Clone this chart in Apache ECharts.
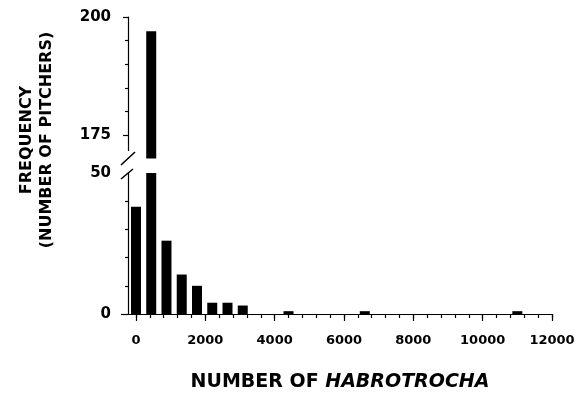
<!DOCTYPE html>
<html>
<head>
<meta charset="utf-8">
<script src="https://cdn.jsdelivr.net/npm/echarts@6/dist/echarts.min.js"></script>
<style>html,body{margin:0;padding:0;background:#fff}#c{width:582px;height:397px}</style>
</head>
<body>
<div id="c"></div>
<script>
// Data
var binCenters = [0, 440, 880, 1320, 1760, 2200, 2640, 3080, 4400, 6600, 11000];
var frequencies = [38, 197, 26, 14, 10, 4, 4, 3, 1, 1, 1];
var xMinorTicks = [0,400,800,1200,1600,2000,2400,2800,3200,3600,4000,4400,4800,5200,5600,6000,6400,6800,7200,7600,8000,8400,8800,9200,9600,10000,10400,10800,11200,11600,12000];
var xMajorTicks = [0,2000,4000,6000,8000,10000,12000];
var xTickLabels = [0,2000,4000,6000,8000,10000,12000];
var yLowerLabels = [0, 50];
var yLowerMinorTicks = [10, 20, 30, 40];
var yLowerMajorTicks = [0];
var yUpperLabels = [175, 200];
var yUpperMinorTicks = [180, 185, 190, 195];
var yUpperMajorTicks = [175, 200];

var FONT = 'DejaVu Sans';
var pairs = binCenters.map(function (x, i) { return [x, frequencies[i]]; });
var plain = function (v) { return String(v); };

var chart = echarts.init(document.getElementById('c'));
var lineStyle = {color: '#000', width: 1.2};
var upperGrid = {left: 128, right: 30, top: 17, height: 141.6};
var lowerGrid = {left: 128, right: 30, top: 173, height: 141};

chart.setOption({
  animation: false,
  backgroundColor: '#fff',
  grid: [upperGrid, lowerGrid, lowerGrid, upperGrid],
  xAxis: [
    {gridIndex: 0, type: 'value', min: -230, max: 12000, show: false},
    {gridIndex: 1, type: 'value', min: -230, max: 12000,
     axisLine: {show: true, onZero: false, lineStyle: lineStyle},
     axisTick: {show: true, customValues: xMinorTicks, length: 4, lineStyle: lineStyle},
     axisLabel: {customValues: xTickLabels, formatter: plain, color: '#000', fontFamily: FONT, fontWeight: 'bold', fontSize: 13, margin: 20},
     splitLine: {show: false},
     name: '{a|NUMBER OF }{b|HABROTROCHA}',
     nameLocation: 'middle', nameGap: 59,
     nameTextStyle: {rich: {
       a: {fontFamily: FONT, fontWeight: 'bold', fontSize: 19, color: '#000'},
       b: {fontFamily: FONT, fontWeight: 'bold', fontStyle: 'italic', fontSize: 19, color: '#000'}
     }}},
    {gridIndex: 2, type: 'value', min: -230, max: 12000,
     axisLine: {show: false, onZero: false},
     axisTick: {show: true, customValues: xMajorTicks, length: 7, lineStyle: lineStyle},
     axisLabel: {show: false}, splitLine: {show: false}},
    {gridIndex: 3, type: 'value', min: -230, max: 12000, show: false}
  ],
  yAxis: [
    {gridIndex: 0, type: 'value', min: 170, max: 200,
     axisLine: {show: true, onZero: false, lineStyle: lineStyle},
     axisTick: {show: true, customValues: yUpperMinorTicks, length: 3, lineStyle: lineStyle},
     axisLabel: {customValues: yUpperLabels, formatter: plain, color: '#000', fontFamily: FONT, fontWeight: 'bold', fontSize: 15, margin: 17},
     splitLine: {show: false}},
    {gridIndex: 1, type: 'value', min: 0, max: 50,
     axisLine: {show: true, onZero: false, lineStyle: lineStyle},
     axisTick: {show: true, customValues: yLowerMinorTicks, length: 3, lineStyle: lineStyle},
     axisLabel: {customValues: yLowerLabels, formatter: plain, color: '#000', fontFamily: FONT, fontWeight: 'bold', fontSize: 15, margin: 17},
     splitLine: {show: false}},
    {gridIndex: 2, type: 'value', min: 0, max: 50,
     axisLine: {show: false, onZero: false},
     axisTick: {show: true, customValues: yLowerMajorTicks, length: 7, lineStyle: lineStyle},
     axisLabel: {show: false}, splitLine: {show: false}},
    {gridIndex: 3, type: 'value', min: 170, max: 200,
     axisLine: {show: false, onZero: false},
     axisTick: {show: true, customValues: yUpperMajorTicks, length: 5, lineStyle: lineStyle},
     axisLabel: {show: false}, splitLine: {show: false}}
  ],
  series: [
    {type: 'bar', xAxisIndex: 0, yAxisIndex: 0, data: pairs, barWidth: 10, clip: true,
     itemStyle: {color: '#000'}},
    {type: 'bar', xAxisIndex: 1, yAxisIndex: 1, data: pairs, barWidth: 10, clip: true,
     itemStyle: {color: '#000'}}
  ],
  graphic: [
    {type: 'rect', shape: {x: 124, y: 151, width: 6, height: 21}, style: {fill: '#fff'}, z: 100},
    {type: 'line', shape: {x1: 121, y1: 165, x2: 135, y2: 152}, style: {stroke: '#000', lineWidth: 1.6}, z: 101},
    {type: 'line', shape: {x1: 121, y1: 179, x2: 133, y2: 169}, style: {stroke: '#000', lineWidth: 1.6}, z: 101},
    {type: 'text', x: 37, y: 140, rotation: Math.PI / 2, z: 101,
     style: {text: 'FREQUENCY\n(NUMBER OF PITCHERS)', font: 'bold 16px "DejaVu Sans"', fill: '#000',
             textAlign: 'center', textVerticalAlign: 'middle', align: 'center', verticalAlign: 'middle', lineHeight: 20}}
  ]
});
</script>
</body>
</html>
